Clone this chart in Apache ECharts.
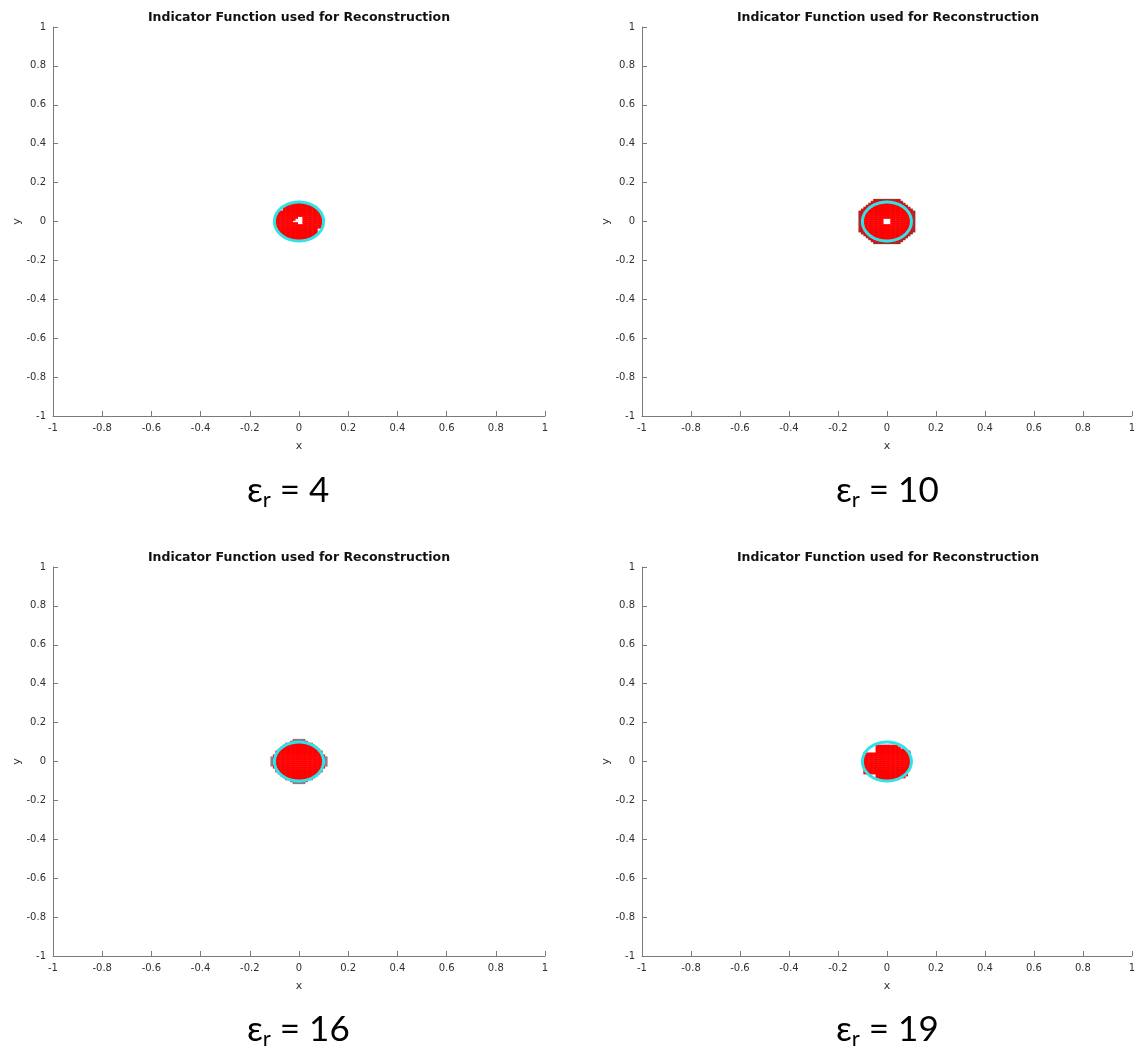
<!DOCTYPE html>
<html>
<head>
<meta charset="utf-8">
<script src="https://cdn.jsdelivr.net/npm/echarts@6/dist/echarts.min.js"></script>
<style>
  html, body { margin: 0; padding: 0; background: #ffffff; }
  #chart { width: 1138px; height: 1048px; }
</style>
</head>
<body>
<div id="chart"></div>
<script>
// Axis ticks shared by every panel
const axisTicks  = [-1, -0.8, -0.6, -0.4, -0.2, 0, 0.2, 0.4, 0.6, 0.8, 1];
const tickLabels = ['-1', '-0.8', '-0.6', '-0.4', '-0.2', '0', '0.2', '0.4', '0.6', '0.8', '1'];

const chartTitle = 'Indicator Function used for Reconstruction';

// Relative permittivity of each reconstruction
const permittivities = [4, 10, 16, 19];

// True scatterer outline: centre x, centre y, radius
const targetCircle = [0, 0, 0.1];

// Indicator grid: 0.01 cells, columns x = -0.11 .. 0.11, rows y = 0.11 .. -0.11
// '#' = inside, 'd' = rim cell, 'g' = faint edge cell, '.' = outside
const cellSize = 0.01;
const gridStart = -0.11;

const maskEps4 = [
  '.......................',
  '.......................',
  '........#######........',
  '......###########......',
  '.....#############.....',
  '.....##############....',
  '...#################...',
  '...#################...',
  '..###################..',
  '..#########..########..',
  '..########...########..',
  '..#######....########..',
  '..#########..########..',
  '..###################..',
  '..###################..',
  '...################....',
  '...################....',
  '....###############....',
  '.....#############.....',
  '......###########......',
  '........#######........',
  '.......................',
  '.......................'
];

const maskEps10 = [
  '......ddddddddddd......',
  '.....d###########d.....',
  '....d#############d....',
  '...d###############d...',
  '..d#################d..',
  '.d###################d.',
  'd#####################d',
  'd#####################d',
  'd#####################d',
  'd#####################d',
  'd#########...#########d',
  'd#########...#########d',
  'd#########...#########d',
  'd#####################d',
  'd#####################d',
  'd#####################d',
  'd#####################d',
  '.d###################d.',
  '..d#################d..',
  '...d###############d...',
  '....d#############d....',
  '.....d###########d.....',
  '......ddddddddddd......'
];

const maskEps16 = [
  '.........ggggg.........',
  '........#######........',
  '......###########......',
  '.....#############.....',
  '....###############....',
  '...#################...',
  '..###################..',
  '..###################..',
  '.#####################.',
  'g#####################g',
  'g#####################g',
  'g#####################g',
  'g#####################g',
  'g#####################g',
  '.#####################.',
  '..###################..',
  '..###################..',
  '...#################...',
  '....###############....',
  '.....#############.....',
  '......###########......',
  '........#######........',
  '.........ggggg.........'
];

const maskEps19 = [
  '.......................',
  '.......................',
  '.......................',
  '.......#########.......',
  '.......##########......',
  '.......############....',
  '.......##############..',
  '..###################..',
  '..###################..',
  '..###################..',
  '..###################..',
  '..###################..',
  '..###################..',
  '..###################..',
  '..###################..',
  '..##################...',
  '..##################...',
  '..##################...',
  '.......#############...',
  '.......############....',
  '........########.......',
  '.......................',
  '.......................'
];

const masks = [maskEps4, maskEps10, maskEps16, maskEps19];

// ---- drawing ----
const cellCodes = { '#': 1, 'd': 2, 'g': 3 };
const cellColors = [null, '#ff0000', '#a8262a', '#8e7a86'];
const outlineColor = '#2fe3e8';
const axisColor = '#7a7a7a';
const labelColor = '#303030';

function maskToCells(mask) {
  const cells = [];
  mask.forEach((row, r) => {
    const y = +(-gridStart - r * cellSize).toFixed(2);
    for (let c = 0; c < row.length; c++) {
      const code = cellCodes[row[c]];
      if (code) cells.push([+(gridStart + c * cellSize).toFixed(2), y, code]);
    }
  });
  return cells;
}

function renderCell(params, api) {
  const p = api.coord([api.value(0), api.value(1)]);
  const s = api.size([cellSize, cellSize]);
  return {
    type: 'rect',
    shape: { x: p[0] - s[0] / 2 - 0.25, y: p[1] - s[1] / 2 - 0.25, width: s[0] + 0.5, height: s[1] + 0.5 },
    style: { fill: cellColors[api.value(2)] }
  };
}

function renderOutline(params, api) {
  const c = api.coord([api.value(0), api.value(1)]);
  const s = api.size([api.value(2), api.value(2)]);
  const pts = [];
  const n = 120;
  for (let k = 0; k < n; k++) {
    const a = (k / n) * Math.PI * 2;
    pts.push([c[0] + s[0] * Math.cos(a), c[1] + s[1] * Math.sin(a)]);
  }
  return {
    type: 'polygon',
    shape: { points: pts },
    style: { fill: 'none', stroke: outlineColor, lineWidth: 3 }
  };
}

// panel placement: [left, top]
const panelPos = [[53, 27], [642, 27], [53, 567], [642, 567]];
const panelW = 492, panelH = 389;
const captionPos = [[247, 491], [836, 491], [247, 1030], [836, 1030]];

function tickText(v) {
  const i = axisTicks.findIndex(t => Math.abs(t - v) < 1e-9);
  return i >= 0 ? tickLabels[i] : '';
}

const commonAxis = {
  type: 'value',
  min: -1,
  max: 1,
  interval: 0.2,
  splitLine: { show: false },
  axisLine: { show: true, onZero: false, lineStyle: { color: axisColor, width: 1 } },
  axisTick: { show: true, inside: true, length: 5, lineStyle: { color: axisColor, width: 1 } },
  axisLabel: { color: labelColor, fontSize: 10, fontFamily: 'DejaVu Sans', formatter: tickText },
  nameLocation: 'middle',
  nameTextStyle: { color: labelColor, fontSize: 11, fontFamily: 'DejaVu Sans' }
};

const grids = [], xAxes = [], yAxes = [], titles = [], series = [], graphics = [];

permittivities.forEach((eps, i) => {
  const [left, top] = panelPos[i];
  grids.push({ left: left, top: top, width: panelW, height: panelH, containLabel: false });
  xAxes.push(Object.assign({}, commonAxis, {
    gridIndex: i, name: 'x', nameGap: 25,
    axisLabel: Object.assign({}, commonAxis.axisLabel, { margin: 7 })
  }));
  yAxes.push(Object.assign({}, commonAxis, {
    gridIndex: i, name: 'y', nameGap: 30,
    axisLabel: Object.assign({}, commonAxis.axisLabel, { margin: 7 })
  }));
  titles.push({
    text: chartTitle,
    left: left + panelW / 2,
    top: top - 16,
    textAlign: 'center',
    padding: 0,
    textStyle: { fontSize: 12.5, fontWeight: 'bold', color: '#111', fontFamily: 'DejaVu Sans' }
  });
  series.push({
    type: 'custom',
    name: 'indicator ε=' + eps,
    xAxisIndex: i,
    yAxisIndex: i,
    renderItem: renderCell,
    data: maskToCells(masks[i]),
    z: 2,
    silent: true
  });
  series.push({
    type: 'custom',
    name: 'outline ε=' + eps,
    xAxisIndex: i,
    yAxisIndex: i,
    renderItem: renderOutline,
    data: [targetCircle],
    z: 3,
    silent: true
  });
  const [cx, cy] = captionPos[i];
  graphics.push({
    type: 'text',
    x: cx,
    y: cy,
    style: {
      text: '{m|ε}{s|r}{m| = ' + eps + '}',
      align: 'left',
      verticalAlign: 'middle',
      fill: '#000',
      rich: {
        m: { fontSize: 35, lineHeight: 40, fontFamily: 'Lato, "Open Sans", sans-serif', color: '#000' },
        s: { fontSize: 22, lineHeight: 16, verticalAlign: 'bottom', fontFamily: 'Lato, "Open Sans", sans-serif', color: '#000' }
      }
    }
  });
});

const chart = echarts.init(document.getElementById('chart'), null, { renderer: 'canvas' });
chart.setOption({
  backgroundColor: '#ffffff',
  animation: false,
  title: titles,
  grid: grids,
  xAxis: xAxes,
  yAxis: yAxes,
  series: series,
  graphic: graphics
});
</script>
</body>
</html>
